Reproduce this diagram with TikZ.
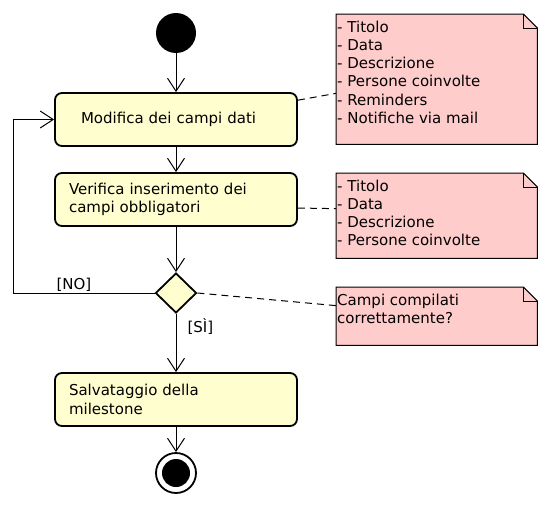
\documentclass[tikz,border=0pt]{standalone}
\usepackage{fontspec}
\setmainfont{DejaVu Sans}
\usepackage{tikz}
\usetikzlibrary{shapes.geometric, arrows.meta}
\usepackage{xcolor}
\definecolor{actfill}{HTML}{FEFECE}
\definecolor{notefill}{HTML}{FFCCCC}

\begin{document}
\begin{tikzpicture}[x=1pt, y=-1pt,
    every node/.style={font=\fontsize{15}{18.3}\selectfont},
    act/.style={draw, line width=1.8pt, rounded corners=7pt, fill=actfill,
        minimum width=242pt, minimum height=53pt, inner xsep=14pt,
        text width=214pt, align=left},
    decision/.style={diamond, draw, line width=1.8pt, fill=actfill,
        minimum width=41pt, minimum height=40pt, inner sep=0pt},
    initstate/.style={circle, fill=black, minimum size=40pt, inner sep=0pt},
    finalstate/.style={circle, draw, line width=1.8pt, fill=white,
        minimum size=40pt, inner sep=0pt},
    notebox/.style={fill=notefill, minimum width=201pt, minimum height=#1,
        anchor=north west, inner sep=0pt},
    notetext/.style={anchor=north west, inner sep=0pt, align=left},
    flow/.style={-{Straight Barb[length=13pt, width=17pt]}, line width=1pt},
    link/.style={dash pattern=on 7pt off 5pt, line width=1pt}]
    \useasboundingbox (0,0) rectangle (549,506);
    % Attività
    \node[initstate] (init) at (176,33) {};
    \node[act, inner xsep=26pt, text width=190pt] (modifica) at (176,119.5) {Modifica dei campi dati};
    \node[act] (verifica) at (176,199.5) {Verifica inserimento dei\\campi obbligatori};
    \node[decision] (check) at (176,293) {};
    \node[act] (salva) at (176,399.5) {Salvataggio della\\milestone};
    \node[finalstate] (fine) at (176,473) {};
    \fill (fine.center) circle (14pt);
    \coordinate (ritorno) at (13,293);
    % Note
    \node[notebox=130pt] (nota1) at (336,14) {};
    \node[notebox=85pt] (nota2) at (336,173) {};
    \node[notebox=58pt] (nota3) at (336,287) {};
    \foreach \n in {nota1,nota2,nota3} {
        \fill[white] ([xshift=-14pt]\n.north east) -- (\n.north east) -- ([yshift=-14pt]\n.north east) -- cycle;
        \draw[line width=1pt] (\n.south west) -- (\n.north west) -- ([xshift=-14pt]\n.north east)
            -- ([yshift=-14pt]\n.north east) -- (\n.south east) -- cycle;
        \draw[line width=1pt] ([xshift=-14pt]\n.north east) |- ([yshift=-14pt]\n.north east);
    }
    \node[notetext] (testo1) at ([shift={(1,6.5)}]nota1.north west)
        {- Titolo\\- Data\\- Descrizione\\- Persone coinvolte\\- Reminders\\- Notifiche via mail};
    \node[notetext] (testo2) at ([shift={(1,6.5)}]nota2.north west)
        {- Titolo\\- Data\\- Descrizione\\- Persone coinvolte};
    \node[notetext] (testo3) at ([shift={(1,6.5)}]nota3.north west)
        {Campi compilati\\correttamente?};
    % Flusso
    \draw[flow] (init) -- (modifica);
    \draw[flow] (modifica) -- (verifica);
    \draw[flow] (verifica) -- (check);
    \draw[flow] (check) -- node[pos=0.22, right=11pt, inner sep=0pt] (si) {[SÌ]} (salva);
    \draw[flow] (salva) -- (fine);
    \draw[flow] (check.west) -- node[pos=0.57, above=1pt, inner sep=0pt] (no) {[NO]} (ritorno) |- (modifica.west);
    % Collegamenti alle note
    \draw[link] (modifica.9) -- (nota1.188);
    \draw[link] (verifica.-4) -- (nota2.176);
    \draw[link] (check.east) -- (nota3.174);
\end{tikzpicture}
\end{document}
